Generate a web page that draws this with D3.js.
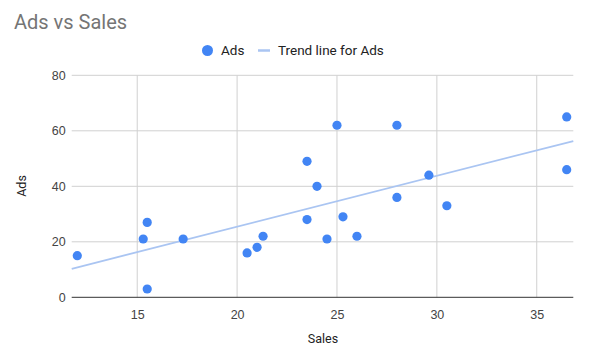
<!DOCTYPE html>
<html><head><meta charset="utf-8">
<script src="https://cdn.jsdelivr.net/npm/d3@7"></script>
<style>body{margin:0;background:#fff}svg{display:block;font-family:Roboto,Arial,sans-serif}</style>
</head><body>
<svg id="c" width="590" height="360"></svg>
<script>
const sales = [12.0,15.3,15.5,15.5,17.3,20.5,21.0,21.3,23.5,24.0,23.5,24.5,25.0,25.3,26.0,28.0,28.0,29.6,30.5,36.5,36.5];
const ads   = [15,21,27,3,21,16,18,22,49,40,28,21,62,29,22,62,36,44,33,65,46];
const xTicks = [15,20,25,30,35];
const yTicks = [0,20,40,60,80];

const svg = d3.select('#c');
const L=71.7, R=573.3, T=75.3, B=297.3;
const x = d3.scaleLinear().domain([11.72,36.83]).range([L,R]);
const y = d3.scaleLinear().domain([0,80]).range([B,T]);

// grid
svg.append('g').selectAll('line').data(xTicks).join('line')
  .attr('x1',d=>x(d)).attr('x2',d=>x(d)).attr('y1',T).attr('y2',B)
  .attr('stroke','#d0d0d0').attr('stroke-width',1);
svg.append('g').selectAll('line').data(yTicks.filter(d=>d>0)).join('line')
  .attr('x1',L).attr('x2',R).attr('y1',d=>y(d)).attr('y2',d=>y(d))
  .attr('stroke','#d0d0d0').attr('stroke-width',1);
// baseline
svg.append('line').attr('x1',L).attr('x2',R).attr('y1',y(0)).attr('y2',y(0))
  .attr('stroke','#333').attr('stroke-width',1);

// axis labels
const xAxis = d3.axisBottom(x).tickValues(xTicks).tickSize(0).tickPadding(0);
const gx = svg.append('g').attr('transform',`translate(0,${B})`).call(xAxis);
gx.select('.domain').remove();
gx.selectAll('text').attr('y',13).attr('dy','0.71em').attr('fill','#444').style('font-size','12.5px');
const yAxis = d3.axisLeft(y).tickValues(yTicks).tickSize(0).tickPadding(0);
const gy = svg.append('g').attr('transform',`translate(${L-6},0)`).call(yAxis);
gy.select('.domain').remove();
gy.selectAll('text').attr('fill','#444').style('font-size','12.5px');

// trend line (least squares)
const mx=d3.mean(sales), my=d3.mean(ads);
let sxy=0,sxx=0; sales.forEach((v,i)=>{sxy+=(v-mx)*(ads[i]-my); sxx+=(v-mx)*(v-mx);});
const m=sxy/sxx, b=my-m*mx;
const dom=x.domain();
svg.append('line').attr('x1',x(dom[0])).attr('y1',y(m*dom[0]+b)).attr('x2',x(dom[1])).attr('y2',y(m*dom[1]+b))
  .attr('stroke','#aac5f2').attr('stroke-width',1.8);

// points
svg.append('g').selectAll('circle').data(sales.map((s,i)=>[s,ads[i]])).join('circle')
  .attr('cx',d=>x(d[0])).attr('cy',d=>y(d[1])).attr('r',4.6).attr('fill','#4285f4');

// title
svg.append('text').attr('x',14).attr('y',29).text('Ads vs Sales')
  .attr('fill','#757575').style('font-size','20px');
// legend
svg.append('circle').attr('cx',207.5).attr('cy',50.5).attr('r',5.5).attr('fill','#4285f4');
svg.append('text').attr('x',221).attr('y',55).text('Ads').attr('fill','#222').style('font-size','13.5px');
svg.append('line').attr('x1',258).attr('x2',270).attr('y1',50.5).attr('y2',50.5).attr('stroke','#aac5f2').attr('stroke-width',2.5);
svg.append('text').attr('x',278).attr('y',55).text('Trend line for Ads').attr('fill','#222').style('font-size','13.5px');
// axis titles
svg.append('text').attr('x',323).attr('y',343).attr('text-anchor','middle').text('Sales').attr('fill','#222').style('font-size','12.5px');
svg.append('text').attr('transform','translate(26,186) rotate(-90)').attr('text-anchor','middle').text('Ads').attr('fill','#222').style('font-size','12.5px');
</script>
</body></html>
